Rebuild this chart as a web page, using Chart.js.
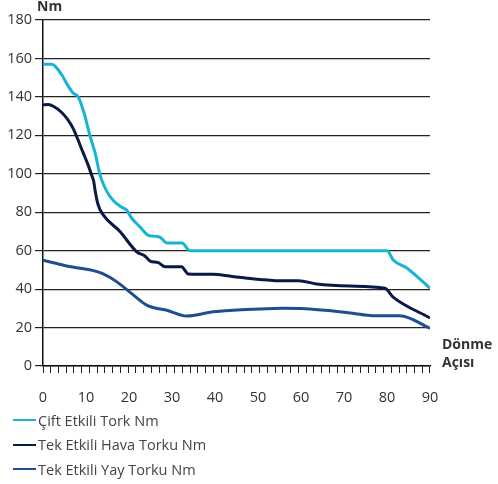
<!DOCTYPE html>
<html>
<head>
<meta charset="utf-8">
<script src="https://cdn.jsdelivr.net/npm/chart.js@4/dist/chart.umd.min.js"></script>
<style>
    body { margin: 0; background: #fff; }
    #wrap { position: relative; width: 498px; height: 484px; }
    #legend { position: absolute; left: 13px; top: 408px; font-family: 'Open Sans', sans-serif; font-size: 14.5px; color: #444; }
    .legend-item { height: 24.5px; display: flex; align-items: center; }
    .legend-line { width: 23px; height: 2px; margin-right: 2px; }
</style>
</head>
<body>
<div id="wrap">
    <canvas id="torqueChart" width="498" height="484"></canvas>
    <div id="legend"></div>
</div>
<script>
// Çift Etkili Tork
const ciftAngle  = [0, 2, 3, 4.5, 5.5, 7, 8.2, 9.5, 10.9, 12.1, 13.3, 14.8, 16.4, 18, 19.5, 20.6, 22.5, 24.5, 27.2, 28.8, 32.3, 34.2, 80, 81.5, 84.6, 90];
const ciftTorque = [157, 157, 155.5, 151, 147, 142, 140, 132, 120, 111, 99, 91, 86, 83, 81, 77, 72.5, 68, 67, 64, 64, 60, 60, 55, 51, 40.5];

// Tek Etkili Hava Torku
const havaAngle  = [0, 1.2, 2.5, 4.3, 5.8, 7, 9.4, 10.5, 11.3, 11.8, 12.1, 12.8, 14, 17.9, 21.8, 23.7, 24.9, 26.8, 28.4, 32.2, 33.8, 39.5, 44, 50.5, 54, 59.4, 63.6, 71.4, 79.5, 81.5, 90];
const havaTorque = [135.8, 136, 135, 132, 128, 123.6, 110.6, 104.5, 99.4, 96, 91.6, 84, 78.6, 70, 59.4, 57.2, 54.6, 53.8, 51.6, 51.6, 47.9, 47.7, 46.6, 45, 44.4, 44.4, 42.7, 41.6, 40.4, 35.7, 25];

// Tek Etkili Yay Torku
const yayAngle  = [0, 5, 8.6, 11.7, 14, 17.1, 21, 24.1, 29, 33.4, 39.6, 44.2, 50.5, 55.8, 61, 67.4, 72, 76.7, 83, 90];
const yayTorque = [55, 52.3, 50.8, 49.6, 47.9, 43.9, 37, 31.7, 28.9, 26, 28.2, 29, 29.7, 30, 29.8, 28.6, 27.5, 26.2, 26.2, 19.6];

const seriesNames = ['Çift Etkili Tork Nm', 'Tek Etkili Hava Torku Nm', 'Tek Etkili Yay Torku Nm'];
const seriesColors = ['#17b5d4', '#0b1a45', '#1f4e8e'];

const xLabelStep = 10;
const xMinorStep = 1.8;
const yStep = 20;

function toPoints(xs, ys) {
    return xs.map((x, i) => ({ x: x, y: ys[i] }));
}

// axis titles: "Nm" above y axis, "Dönme Açısı" right of x axis
const axisTitles = {
    id: 'axisTitles',
    afterDraw(chart) {
        const c = chart.ctx;
        const area = chart.chartArea;
        c.save();
        c.fillStyle = '#333';
        c.textBaseline = 'middle';
        c.textAlign = 'left';
        c.font = 'bold 14px "Open Sans", sans-serif';
        c.fillText('Nm', area.left - 6, area.top - 13);
        c.fillText('Dönme', area.right + 12, area.bottom - 21);
        c.fillText('Açısı', area.right + 12, area.bottom - 3);
        c.restore();
    }
};

const chart = new Chart(document.getElementById('torqueChart'), {
    type: 'line',
    data: {
        datasets: [
            { label: seriesNames[0], data: toPoints(ciftAngle, ciftTorque), borderColor: seriesColors[0] },
            { label: seriesNames[1], data: toPoints(havaAngle, havaTorque), borderColor: seriesColors[1] },
            { label: seriesNames[2], data: toPoints(yayAngle, yayTorque), borderColor: seriesColors[2] }
        ]
    },
    options: {
        responsive: false,
        animation: false,
        layout: { padding: { top: 20, right: 68, left: 0, bottom: 0 } },
        elements: {
            line: { borderWidth: 3, cubicInterpolationMode: 'monotone', fill: false },
            point: { radius: 0 }
        },
        plugins: {
            legend: { display: false },
            tooltip: { enabled: false }
        },
        scales: {
            xMinor: {
                type: 'linear',
                position: 'bottom',
                weight: 0,
                min: 0,
                max: 90,
                afterBuildTicks: (axis) => {
                    const t = [];
                    for (let v = 0; v <= 90.001; v += xMinorStep) t.push({ value: v });
                    axis.ticks = t;
                },
                afterFit: (axis) => { axis.height = 7; },
                ticks: { display: false },
                grid: { drawOnChartArea: false, color: '#222', lineWidth: 1, tickLength: 7 },
                border: { color: '#111', width: 1.5 }
            },
            x: {
                type: 'linear',
                position: 'bottom',
                weight: 1,
                min: 0,
                max: 90,
                afterFit: (axis) => { axis.height = 111; },
                ticks: {
                    stepSize: xLabelStep,
                    padding: 8,
                    color: '#333',
                    font: { family: '"Open Sans", sans-serif', size: 14.5 }
                },
                grid: { display: false },
                border: { display: false }
            },
            y: {
                min: 0,
                max: 180,
                afterFit: (axis) => { axis.width = 43; },
                ticks: {
                    stepSize: yStep,
                    padding: 3,
                    color: '#333',
                    font: { family: '"Open Sans", sans-serif', size: 14.5 }
                },
                grid: { color: '#222', lineWidth: 1.2, tickLength: 8 },
                border: { color: '#111', width: 1.5 }
            }
        }
    },
    plugins: [axisTitles]
});

// legend stacked below the chart
const legendBox = document.getElementById('legend');
chart.data.datasets.forEach((ds) => {
    const item = document.createElement('div');
    item.className = 'legend-item';
    const line = document.createElement('span');
    line.className = 'legend-line';
    line.style.background = ds.borderColor;
    const text = document.createElement('span');
    text.textContent = ds.label;
    item.appendChild(line);
    item.appendChild(text);
    legendBox.appendChild(item);
});
</script>
</body>
</html>
